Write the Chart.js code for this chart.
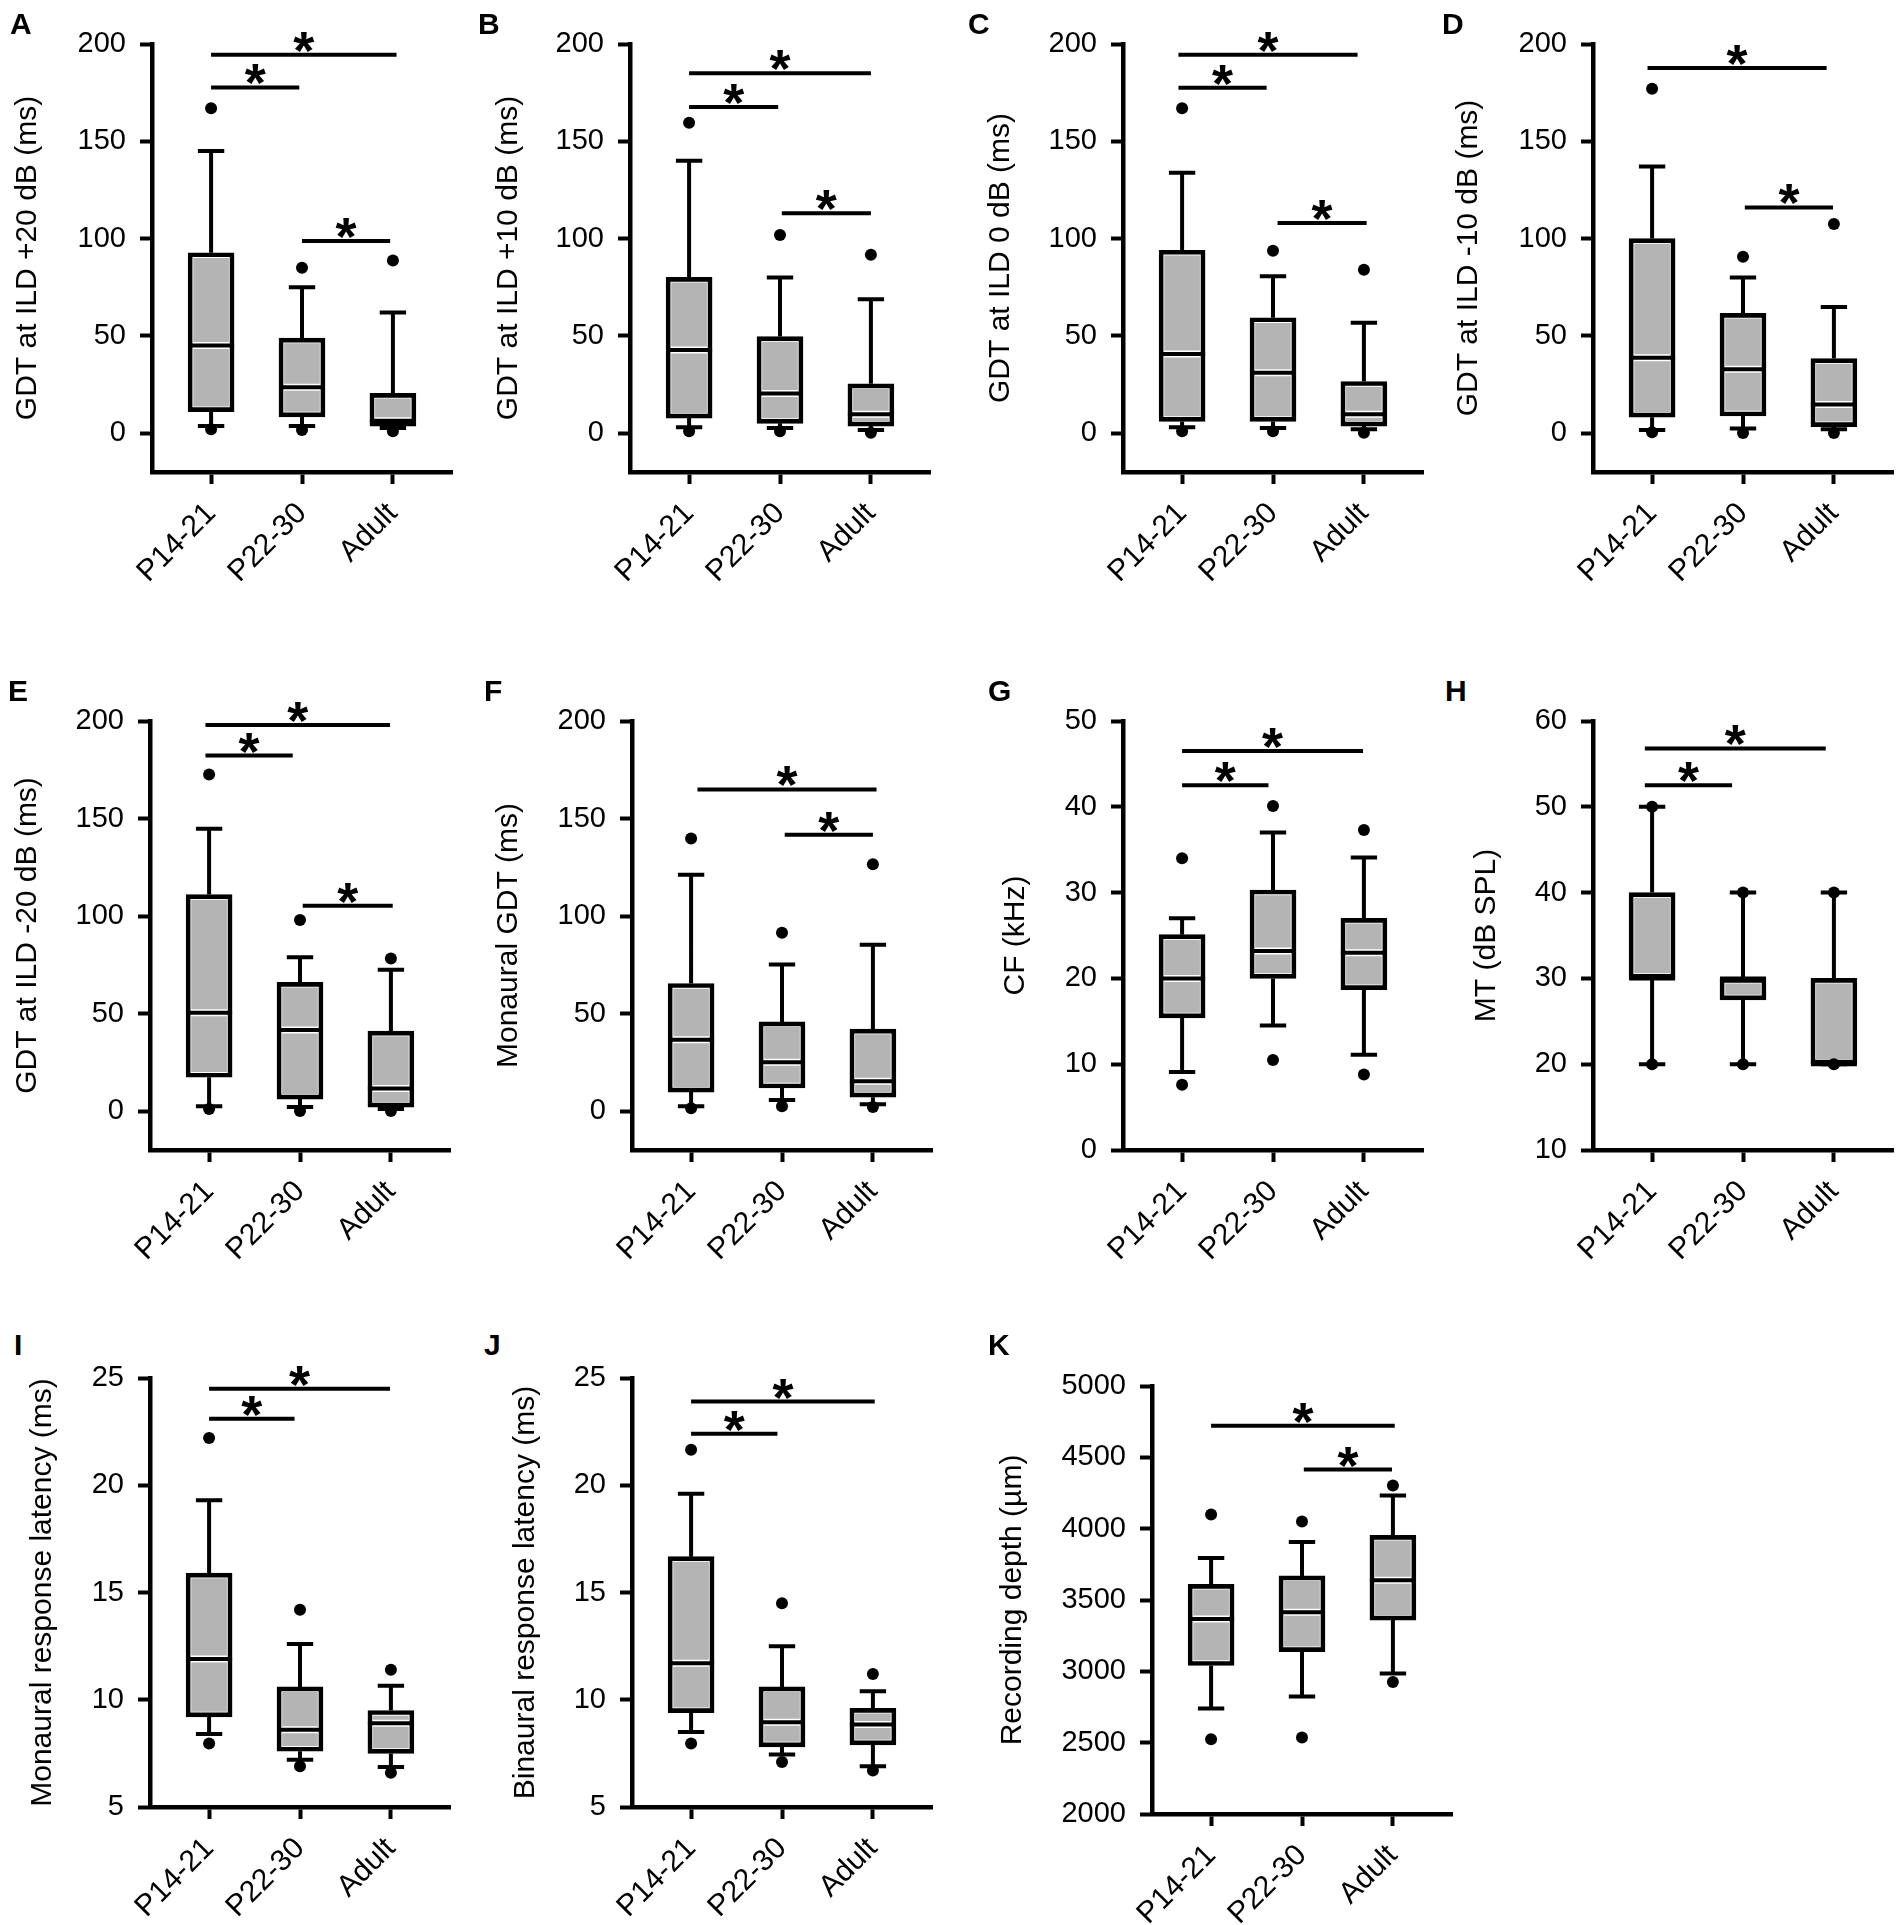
<!DOCTYPE html>
<html>
<head>
<meta charset="utf-8">
<script src="https://cdn.jsdelivr.net/npm/chart.js@4.4.1/dist/chart.umd.min.js"></script>
<style>
  html, body { margin: 0; padding: 0; background: #fff; }
  #fig { position: relative; width: 1902px; height: 1925px; overflow: hidden;
         font-family: 'Liberation Sans', Arial, sans-serif; }
  #fig canvas { position: absolute; }
  .letter { position: absolute; font-weight: bold; font-size: 30px; line-height: 30px; color: #000; }
</style>
</head>
<body>
<div id="fig"></div>
<script>
"use strict";

// Categories shared by every panel
const groups = ["P14-21", "P22-30", "Adult"];

// Box rows per group: [low dot, low whisker, Q1, median, Q3, high whisker, high dot]
const boxA = [[2, 3.6, 11, 45, 92.7, 145, 167], [1.6, 3.6, 8.3, 23.5, 48.8, 75, 85], [1, 2.6, 3.6, 6.3, 20.4, 62, 88.7]];
const boxB = [[1, 3, 7.7, 42.7, 80, 140, 159.5], [1, 2.6, 5, 20.4, 49.6, 80, 101.8], [0.2, 1.6, 3.6, 9.7, 25.3, 68.8, 91.7]];
const boxC = [[1, 3, 6, 40.7, 94, 133.8, 167], [1, 2.6, 6, 31, 59.3, 80.6, 93.7], [0.2, 2, 3.6, 9.7, 26.5, 56.7, 84]];
const boxD = [[0.4, 1.6, 8.2, 38.7, 100, 137, 177], [0, 2.4, 8.8, 32.8, 61.5, 80, 90.7], [0, 2, 3.3, 14.7, 38.3, 64.8, 107.5]];
const boxE = [[1, 2.4, 17.3, 50.4, 111, 144.8, 172.6], [0, 2, 6.1, 41.6, 66, 78.8, 97.9], [0, 1, 2, 11.6, 41, 72.5, 78.2]];
const boxF = [[1.4, 2.4, 9.7, 36.5, 65.4, 121.2, 139.7], [2.4, 5.7, 11.8, 25, 45.7, 75.1, 91.4], [2, 3.5, 7.1, 15.2, 42, 85.3, 126.5]];
const boxG = [[7.6, 9.1, 15.4, 20, 25.1, 27, 34], [10.5, 14.5, 20, 23.2, 30.3, 37, 40.1], [8.8, 11.1, 18.7, 23, 27, 34.1, 37.3]];
const boxH = [[20, 20, 30, 30, 40, 50, 50], [20, 20, 27.5, 30, 30, 40, 40], [20, 20, 20, 20, 30, 40, 40]];
const boxI = [[7.96, 8.4, 9.2, 11.9, 15.9, 19.3, 22.2], [6.9, 7.2, 7.6, 8.6, 10.6, 12.6, 14.2], [6.6, 6.86, 7.5, 8.9, 9.5, 10.65, 11.4]];
const boxJ = [[7.96, 8.5, 9.4, 11.7, 16.67, 19.6, 21.65], [7.1, 7.45, 7.8, 8.95, 10.6, 12.5, 14.5], [6.7, 6.9, 7.9, 8.85, 9.6, 10.4, 11.2]];
const boxK = [[2524, 2739, 3041, 3367, 3610, 3794, 4099], [2536, 2823, 3138, 3415, 3669, 3906, 4051], [2926, 2985, 3359, 3638, 3953, 4232, 4302]];

// Significance bars: [from group, to group, height]
const sigA = [[0, 0.97, 177.7], [0, 2.04, 194.5], [1, 1.97, 98.8]];
const sigB = [[0, 0.98, 167.6], [0, 2, 185], [1.02, 2, 113]];
const sigC = [[-0.04, 0.93, 177.5], [-0.04, 1.93, 194.5], [1.05, 2.03, 108]];
const sigD = [[-0.05, 1.92, 187.6], [1.02, 1.99, 116]];
const sigE = [[-0.04, 0.92, 182.3], [-0.04, 1.99, 198], [1.03, 2.02, 105.2]];
const sigF = [[0.07, 2.04, 164.9], [1.03, 2, 141.7]];
const sigG = [[0, 0.95, 42.5], [0, 1.99, 46.5]];
const sigH = [[-0.08, 0.88, 52.5], [-0.08, 1.91, 56.8]];
const sigI = [[0, 0.94, 23.1], [0, 1.99, 24.5]];
const sigJ = [[0, 0.95, 22.4], [0, 2.02, 23.9]];
const sigK = [[0, 2.02, 4721], [1.02, 1.99, 4414]];

// Y tick labels
const ticksGDT = [0, 50, 100, 150, 200];
const ticksCF = [0, 10, 20, 30, 40, 50];
const ticksMT = [10, 20, 30, 40, 50, 60];
const ticksLat = [5, 10, 15, 20, 25];
const ticksDepth = [2000, 2500, 3000, 3500, 4000, 4500, 5000];

// Panel placement (pixels on the page) and axis setup
const panels = [
  { id: "A", box: boxA, sig: sigA, ticks: ticksGDT, min: -20, max: 200, title: "GDT at ILD +20 dB (ms)", ax: 152, top: 44, bot: 472, yw: 142, lx: 10, ly: 13 },
  { id: "B", box: boxB, sig: sigB, ticks: ticksGDT, min: -20, max: 200, title: "GDT at ILD +10 dB (ms)", ax: 630, top: 44, bot: 472, yw: 139, lx: 478, ly: 13 },
  { id: "C", box: boxC, sig: sigC, ticks: ticksGDT, min: -20, max: 200, title: "GDT at ILD 0 dB (ms)", ax: 1123, top: 44, bot: 472, yw: 140, lx: 968, ly: 13 },
  { id: "D", box: boxD, sig: sigD, ticks: ticksGDT, min: -20, max: 200, title: "GDT at ILD -10 dB (ms)", ax: 1593, top: 44, bot: 472, yw: 142, lx: 1442, ly: 13 },
  { id: "E", box: boxE, sig: sigE, ticks: ticksGDT, min: -20, max: 200, title: "GDT at ILD -20 dB (ms)", ax: 150, top: 721, bot: 1150, yw: 140, lx: 8, ly: 680 },
  { id: "F", box: boxF, sig: sigF, ticks: ticksGDT, min: -20, max: 200, title: "Monaural GDT (ms)", ax: 632, top: 721, bot: 1150, yw: 141, lx: 484, ly: 680 },
  { id: "G", box: boxG, sig: sigG, ticks: ticksCF, min: 0, max: 50, title: "CF (kHz)", ax: 1123, top: 721, bot: 1150, yw: 125, lx: 988, ly: 680 },
  { id: "H", box: boxH, sig: sigH, ticks: ticksMT, min: 10, max: 60, title: "MT (dB SPL)", ax: 1593, top: 721, bot: 1150, yw: 124, lx: 1445, ly: 680 },
  { id: "I", box: boxI, sig: sigI, ticks: ticksLat, min: 5, max: 25, title: "Monaural response latency (ms)", ax: 150, top: 1378, bot: 1807, yw: 125, lx: 14, ly: 1334 },
  { id: "J", box: boxJ, sig: sigJ, ticks: ticksLat, min: 5, max: 25, title: "Binaural response latency (ms)", ax: 632, top: 1378, bot: 1807, yw: 124, lx: 484, ly: 1334 },
  { id: "K", box: boxK, sig: sigK, ticks: ticksDepth, min: 2000, max: 5000, title: "Recording depth (\u00b5m)", ax: 1152, top: 1386, bot: 1814, yw: 157, lx: 988, ly: 1334 }
];

const FONT = "'Liberation Sans', Arial, sans-serif";
const GRAY = "#b4b4b4";
const PAD_TOP = 44;
const X_AREA = 130;
const PLOT_W = 300;
const HALF_BOX = 0.253;   // in group units
const HALF_IN = 0.2;
const CAP = 0.145;
const STAR_DY = 14;

Chart.defaults.font.family = FONT;
Chart.defaults.color = "#000";

const starPlugin = {
  id: "stars",
  afterDatasetsDraw(chart, args, opts) {
    const { ctx } = chart;
    const xs = chart.scales.x;
    const ys = chart.scales.y;
    ctx.save();
    ctx.fillStyle = "#000";
    ctx.font = "bold 54px " + FONT;
    ctx.textAlign = "center";
    ctx.textBaseline = "alphabetic";
    opts.sig.forEach((s) => {
      ctx.fillText("*", xs.getPixelForValue((s[0] + s[1]) / 2), ys.getPixelForValue(s[2]) + STAR_DY);
    });
    ctx.restore();
  }
};

const fig = document.getElementById("fig");

function makePanel(p) {
  const w = p.yw + PLOT_W + 20;
  const h = PAD_TOP + (p.bot - p.top) + X_AREA;
  const cv = document.createElement("canvas");
  cv.width = w;
  cv.height = h;
  cv.style.left = p.ax - p.yw + "px";
  cv.style.top = p.top - PAD_TOP + "px";
  cv.style.width = w + "px";
  cv.style.height = h + "px";
  fig.appendChild(cv);

  const lab = document.createElement("div");
  lab.className = "letter";
  lab.textContent = p.id;
  lab.style.left = p.lx + "px";
  lab.style.top = p.ly - 4 + "px";
  fig.appendChild(lab);

  const boxes = p.box.map((b, i) => ({ x: i, y: [b[2], b[4]] }));
  const whiskers = [];
  const medOuter = [];
  const medInner = [];
  const dots = [];
  p.box.forEach((b, i) => {
    whiskers.push(
      { x: i, y: b[4] }, { x: i, y: b[5] }, { x: i, y: null },
      { x: i - CAP, y: b[5] }, { x: i + CAP, y: b[5] }, { x: i, y: null },
      { x: i, y: b[2] }, { x: i, y: b[1] }, { x: i, y: null },
      { x: i - CAP, y: b[1] }, { x: i + CAP, y: b[1] }, { x: i, y: null }
    );
    medOuter.push({ x: i - HALF_BOX, y: b[3] }, { x: i + HALF_BOX, y: b[3] }, { x: i, y: null });
    medInner.push({ x: i - HALF_IN, y: b[3] }, { x: i + HALF_IN, y: b[3] }, { x: i, y: null });
    dots.push({ x: i, y: b[0] }, { x: i, y: b[6] });
  });
  const sigLines = [];
  p.sig.forEach((s) => {
    sigLines.push({ x: s[0], y: s[2] }, { x: s[1], y: s[2] }, { x: s[1], y: null });
  });

  const lineBase = { type: "line", borderColor: "#000", borderWidth: 4, pointRadius: 0,
    spanGaps: false, tension: 0, borderCapStyle: "butt", clip: false };

  const axisGrid = { display: true, offset: false, drawOnChartArea: false, drawTicks: true,
    tickLength: 12, tickWidth: 4, tickColor: "#000" };
  const axisBorder = { display: true, color: "#000", width: 4.5 };

  new Chart(cv, {
    type: "bar",
    data: {
      datasets: [
        { type: "bar", data: boxes, backgroundColor: GRAY, borderColor: "#fff", borderWidth: 5.5,
          borderSkipped: false, barThickness: 46, grouped: false, order: 6 },
        Object.assign({}, lineBase, { data: medInner, borderColor: "#fff", borderWidth: 7, order: 5 }),
        { type: "bar", data: boxes, backgroundColor: "rgba(0,0,0,0)", borderColor: "#000", borderWidth: 4,
          borderSkipped: false, barThickness: 46, grouped: false, order: 4 },
        Object.assign({}, lineBase, { data: medOuter, order: 3 }),
        Object.assign({}, lineBase, { data: whiskers, order: 2 }),
        Object.assign({}, lineBase, { data: sigLines, order: 2 }),
        { type: "scatter", data: dots, pointRadius: 6, pointBackgroundColor: "#000",
          pointBorderWidth: 0, order: 1, clip: false }
      ]
    },
    options: {
      responsive: false,
      animation: false,
      devicePixelRatio: 1,
      events: [],
      layout: { padding: { top: PAD_TOP, right: 20, left: 0, bottom: 0 } },
      plugins: { legend: { display: false }, tooltip: { enabled: false }, stars: { sig: p.sig } },
      scales: {
        x: {
          type: "linear", min: -0.65, max: 2.65, offset: false,
          afterBuildTicks: (s) => { s.ticks = groups.map((g, i) => ({ value: i })); },
          afterFit: (s) => { s.height = X_AREA; },
          ticks: { callback: (v) => groups[v], autoSkip: false, minRotation: 45, maxRotation: 45,
            font: { size: 30 }, color: "#000", padding: 12 },
          grid: axisGrid,
          border: axisBorder
        },
        y: {
          type: "linear", min: p.min, max: p.max,
          afterBuildTicks: (s) => { s.ticks = p.ticks.map((v) => ({ value: v })); },
          afterFit: (s) => { s.width = p.yw; },
          ticks: { callback: (v) => String(v), font: { size: 29 }, color: "#000", padding: 14 },
          grid: axisGrid,
          border: axisBorder,
          title: { display: true, text: p.title, font: { size: 30 }, color: "#000", padding: 0 }
        }
      }
    },
    plugins: [starPlugin]
  });
}

panels.forEach(makePanel);
</script>
</body>
</html>
